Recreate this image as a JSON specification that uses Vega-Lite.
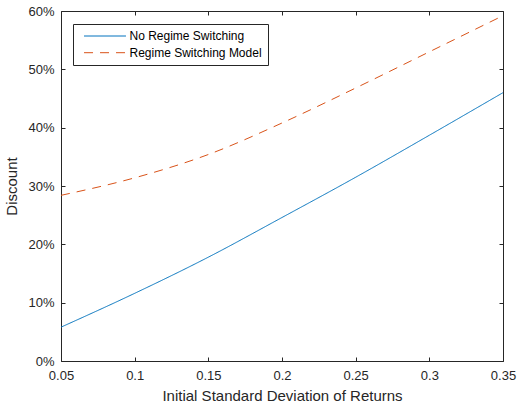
{
  "$schema": "https://vega.github.io/schema/vega-lite/v6.json",
  "autosize": "none",
  "width": 442,
  "height": 350,
  "padding": {"left": 61, "top": 11, "right": 14, "bottom": 42},
  "background": "white",
  "config": {
    "view": {"stroke": null},
    "font": "Liberation Sans",
    "axis": {
      "domainColor": "#262626",
      "tickColor": "#262626",
      "domainWidth": 1,
      "tickWidth": 1,
      "grid": false,
      "labelFont": "Liberation Sans",
      "labelFontSize": 13,
      "labelColor": "#262626",
      "titleFont": "Liberation Sans",
      "titleFontSize": 15,
      "titleFontWeight": "normal",
      "titleColor": "#262626"
    }
  },
  "data": {
    "values": [
      {"sd": 0.05, "discount": 0.058, "series": "No Regime Switching"},
      {"sd": 0.10, "discount": 0.116, "series": "No Regime Switching"},
      {"sd": 0.15, "discount": 0.178, "series": "No Regime Switching"},
      {"sd": 0.20, "discount": 0.246, "series": "No Regime Switching"},
      {"sd": 0.25, "discount": 0.315, "series": "No Regime Switching"},
      {"sd": 0.30, "discount": 0.387, "series": "No Regime Switching"},
      {"sd": 0.35, "discount": 0.460, "series": "No Regime Switching"},
      {"sd": 0.05, "discount": 0.284, "series": "Regime Switching Model"},
      {"sd": 0.10, "discount": 0.314, "series": "Regime Switching Model"},
      {"sd": 0.15, "discount": 0.354, "series": "Regime Switching Model"},
      {"sd": 0.20, "discount": 0.408, "series": "Regime Switching Model"},
      {"sd": 0.25, "discount": 0.468, "series": "Regime Switching Model"},
      {"sd": 0.30, "discount": 0.530, "series": "Regime Switching Model"},
      {"sd": 0.35, "discount": 0.592, "series": "Regime Switching Model"}
    ]
  },
  "layer": [
    {
      "mark": {"type": "line", "strokeWidth": 1, "interpolate": "monotone"},
      "encoding": {
        "x": {
          "field": "sd", "type": "quantitative",
          "scale": {"domain": [0.05, 0.35], "nice": false, "zero": false},
          "axis": {"values": [0.05, 0.1, 0.15, 0.2, 0.25, 0.3, 0.35], "format": ".2~f", "tickSize": -4, "labelPadding": 12, "title": "Initial Standard Deviation of Returns", "titlePadding": 6, "labelFlush": false}
        },
        "y": {
          "field": "discount", "type": "quantitative",
          "scale": {"domain": [0, 0.6], "nice": false},
          "axis": {"values": [0, 0.1, 0.2, 0.3, 0.4, 0.5, 0.6], "format": ".0%", "tickSize": -4, "labelPadding": 11, "title": "Discount", "titlePadding": 8, "labelFlush": false}
        },
        "color": {
          "field": "series", "type": "nominal",
          "scale": {"domain": ["No Regime Switching", "Regime Switching Model"], "range": ["#0072BD", "#D95319"]},
          "legend": {
            "title": null,
            "orient": "none",
            "legendX": 12,
            "legendY": 13,
            "symbolType": "M-4,0H4",
            "symbolSize": 110,
            "symbolStrokeWidth": 1,
            "symbolOffset": 20,
            "labelFont": "Liberation Sans",
            "labelFontSize": 12,
            "labelColor": "#000000",
            "strokeColor": "#262626",
            "fillColor": "white",
            "padding": 6,
            "rowPadding": 4.7,
            "labelOffset": 18.5
          }
        },
        "strokeDash": {
          "field": "series", "type": "nominal",
          "scale": {"domain": ["No Regime Switching", "Regime Switching Model"], "range": [[1, 0], [9, 7]]},
          "legend": null
        }
      }
    },
    {
      "mark": {"type": "rule", "opacity": 0},
      "encoding": {
        "x": {
          "field": "sd", "type": "quantitative",
          "axis": {"orient": "top", "values": [0.05, 0.1, 0.15, 0.2, 0.25, 0.3, 0.35], "labels": false, "tickSize": -4, "title": null}
        },
        "y": {
          "field": "discount", "type": "quantitative",
          "axis": {"orient": "right", "values": [0, 0.1, 0.2, 0.3, 0.4, 0.5, 0.6], "labels": false, "tickSize": -4, "title": null}
        }
      }
    }
  ],
  "resolve": {"axis": {"x": "independent", "y": "independent"}}
}
